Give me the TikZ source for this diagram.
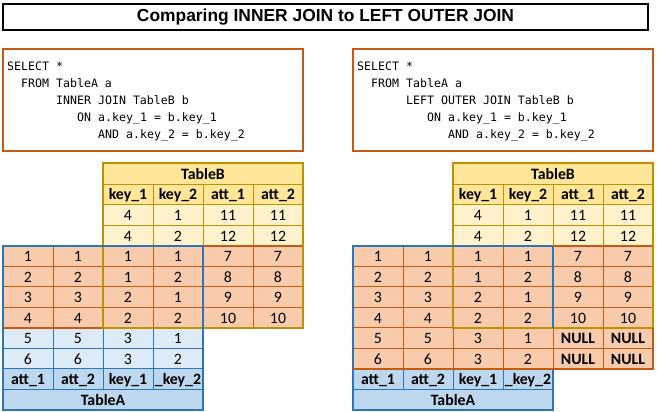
\documentclass[tikz,border=0pt]{standalone}
\usepackage{fontspec}
\setmainfont{Carlito}
\newfontfamily\headfont{Liberation Sans}
\newfontfamily\sqlfont{DejaVu Sans Mono}

\definecolor{goldline}{HTML}{BF9000}
\definecolor{goldhead}{HTML}{FFE699}
\definecolor{goldcell}{HTML}{FFF2CC}
\definecolor{rustline}{HTML}{C55A11}
\definecolor{rustcell}{HTML}{F8CBAD}
\definecolor{blueline}{HTML}{2E75B6}
\definecolor{bluecell}{HTML}{DDEBF7}
\definecolor{bluehead}{HTML}{BDD7EE}

\begin{document}
\begin{tikzpicture}[x=1pt, y=-1pt, font=\fontsize{15.8}{18}\selectfont]
\tikzstyle{cell}=[rectangle, anchor=north west, minimum width=50pt, minimum height=20.5pt, inner sep=0pt, outer sep=0pt, text height=12pt, text depth=0.5pt, line width=0.75pt]
\tikzstyle{bhead}=[cell, draw=goldline, fill=goldhead, font=\fontsize{15.8}{18}\selectfont\bfseries]
\tikzstyle{bcell}=[cell, draw=goldline, fill=goldcell]
\tikzstyle{rcell}=[cell, draw=rustline, fill=rustcell]
\tikzstyle{nullcell}=[rcell, font=\fontsize{15.8}{18}\selectfont\bfseries]
\tikzstyle{acell}=[cell, draw=blueline, fill=bluecell]
\tikzstyle{ahead}=[cell, draw=blueline, fill=bluehead, font=\fontsize{15.8}{18}\selectfont\bfseries]
\tikzstyle{sqlline}=[anchor=base west, inner sep=0pt, font=\sqlfont\fontsize{11.6}{14}\selectfont]
\tikzstyle{frame}=[line width=2pt]

\useasboundingbox (0,0) rectangle (657,412);

\node[draw, frame, minimum width=645pt, minimum height=26.8pt, inner sep=0pt, font=\headfont\fontsize{17.4}{20}\selectfont\bfseries] (title) at (325.5,17) {Comparing INNER JOIN to LEFT OUTER JOIN};

\foreach \side/\ox/\jtype/\tail in {L/0/INNER JOIN/acell, R/350/LEFT OUTER JOIN/rcell}{
\begin{scope}[xshift=\ox pt]
% query
\node[draw=rustline, frame, anchor=north west, minimum width=300pt, minimum height=102.5pt, inner sep=0pt, outer sep=0pt] (\side query) at (3,48.7) {};
\foreach \txt/\ind [count=\i from 0] in {SELECT */0, FROM TableA a/2, \jtype\ TableB b/7, ON a.key\_1 = b.key\_1/10, AND a.key\_2 = b.key\_2/13}
  \node[sqlline] (\side sql\i) at (7+7*\ind, 71+17*\i) {\txt};
% TableB
\node[bhead, minimum width=200pt] (\side btitle) at (103,163.5) {TableB};
\foreach \v [count=\c from 2] in {key\_1,key\_2,att\_1,att\_2}
  \node[bhead] (\side bh\c) at (3+50*\c,184) {\v};
\foreach \row [count=\r from 2] in {{4,1,11,11},{4,2,12,12}}
  \foreach \v [count=\c from 2] in \row
    \node[bcell] (\side b\r\c) at (3+50*\c,163.5+20.5*\r) {\v};
% matched rows
\foreach \row [count=\r from 4] in {{1,1,1,1,7,7},{2,2,1,2,8,8},{3,3,2,1,9,9},{4,4,2,2,10,10}}
  \foreach \v [count=\c from 0] in \row
    \node[rcell] (\side m\r\c) at (3+50*\c,163.5+20.5*\r) {\v};
% rest of TableA
\foreach \row [count=\r from 8] in {{5,5,3,1},{6,6,3,2}}
  \foreach \v [count=\c from 0] in \row
    \node[\tail] (\side a\r\c) at (3+50*\c,163.5+20.5*\r) {\v};
\foreach \v [count=\c from 0] in {att\_1,att\_2,key\_1,\_key\_2}
  \node[ahead] (\side ah\c) at (3+50*\c,368.5) {\v};
\node[ahead, minimum width=200pt] (\side atitle) at (3,389) {TableA};
\end{scope}
}

% outer join fills
\foreach \r in {8,9}
  \foreach \c in {4,5}
    \node[nullcell] (Rn\r\c) at (353+50*\c,163.5+20.5*\r) {NULL};

% left borders
\draw[frame, rustline] (La80.north west) -- (La81.north east);
\draw[frame, rustline] (Lm44.north west) -- (Lm45.north east);
\draw[frame, goldline] (Lbtitle.north west) rectangle (Lm75.south east);
\draw[line width=1.5pt, goldline] (Lbh2.south west) -- (Lbh5.south east);
\draw[frame, blueline] (Lm40.north west) rectangle (Latitle.south east);
\draw[line width=1.5pt, blueline] (Lah0.north west) -- (Lah3.north east);

% right borders
\draw[frame, goldline] (Rbtitle.north west) rectangle (Rm75.south east);
\draw[line width=1.5pt, goldline] (Rbh2.south west) -- (Rbh5.south east);
\draw[frame, blueline] (Rm73.south east) -- (Rm43.north east) -- (Rm40.north west) -- (Ratitle.south west) -- (Ratitle.south east) -- (Rah3.north east);
\draw[frame, rustline] (Rm44.north west) -- (Rm45.north east);
\draw[frame, rustline] (Rn85.north east) -- (Rn95.south east) -- (Ra90.south west);

\end{tikzpicture}
\end{document}
